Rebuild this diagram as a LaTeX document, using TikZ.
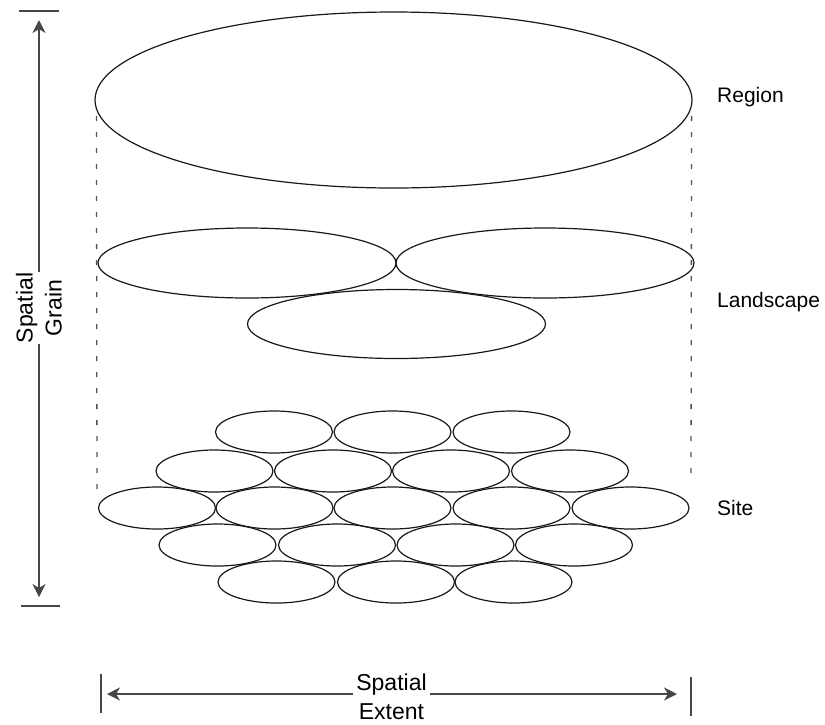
\documentclass[tikz,border=0pt]{standalone}
\usepackage{fontspec}
\setmainfont{Liberation Sans}
\usetikzlibrary{arrows.meta,shapes.geometric}
\begin{document}
\begin{tikzpicture}[x=1pt,y=-1pt,
  oval/.style={ellipse,draw=black!90,line width=1.2pt,inner sep=0pt},
  reg/.style={oval,minimum width=597pt,minimum height=176pt},
  land/.style={oval,minimum width=298pt,minimum height=70pt},
  site/.style={oval,minimum width=117pt,minimum height=42pt},
  guide/.style={draw=black!68,line width=1.3pt,dash pattern=on 5pt off 11pt},
  dim/.style={draw=black!72,line width=1.3pt},
  arr/.style={dim,-{Stealth[length=13pt,width=13pt,inset=4pt]}},
  lab/.style={font=\fontsize{21}{25}\selectfont,inner sep=0pt,anchor=base west},
  axisv/.style={font=\fontsize{23}{29}\selectfont,align=center,inner ysep=0pt,inner xsep=1pt},
  axish/.style={font=\fontsize{23}{29}\selectfont,align=center,inner ysep=0pt,inner xsep=3.4pt}
]
\useasboundingbox (0,0) rectangle (825,724);

% Region
\node[reg] (region) at (393.5,100) {};
% Landscape
\node[land] (l1) at (247,263) {};
\node[land] (l2) at (545,263) {};
\node[land,minimum height=69pt] (l3) at (396.5,324) {};

% Site ellipses
\foreach \x [count=\i] in {274,392.5,511.5}
  \node[site] (sa\i) at (\x,432) {};
\foreach \x [count=\i] in {214.5,333,451,570}
  \node[site] (sb\i) at (\x,471) {};
\foreach \x [count=\i] in {157,274.5,392.5,511.5,630.5}
  \node[site] (sc\i) at (\x,508) {};
\foreach \x [count=\i] in {217.5,337,455.5,574}
  \node[site] (sd\i) at (\x,545) {};
\foreach \x [count=\i] in {276.5,396,513.5}
  \node[site] (se\i) at (\x,582) {};

% dashed guides
\coordinate (dl) at (97,491);
\coordinate (dr) at (691,482);
\draw[guide] ([xshift=2pt,yshift=-16pt]region.west) -- (dl);
\draw[guide] ([xshift=-1pt,yshift=-16pt]region.east) -- (dr);

% labels
\node[lab] (tregion) at (717,102) {Region};
\node[lab] (tland) at (717,307) {Landscape};
\node[lab] (tsite) at (717,515) {Site};

% spatial grain
\node[axisv,rotate=90] (grain) at (39,308) {Spatial\\Grain};
\coordinate (gT) at (39,20);
\coordinate (gB) at (39,597);
\draw[arr] (grain.east) -- (gT);
\draw[arr] (grain.west) -- (gB);
\draw[dim] (19,11) -- (59,11);
\draw[dim] (21,606) -- (60,606);

% spatial extent
\node[axish] (extent) at (391.5,697) {Spatial\\Extent};
\coordinate (eL) at (107,694);
\coordinate (eR) at (677,694);
\draw[arr] (extent.west |- eL) -- (eL);
\draw[arr] (extent.east |- eR) -- (eR);
\draw[dim] (101,674) -- (101,713);
\draw[dim] (691,677) -- (691,716);
\end{tikzpicture}
\end{document}
